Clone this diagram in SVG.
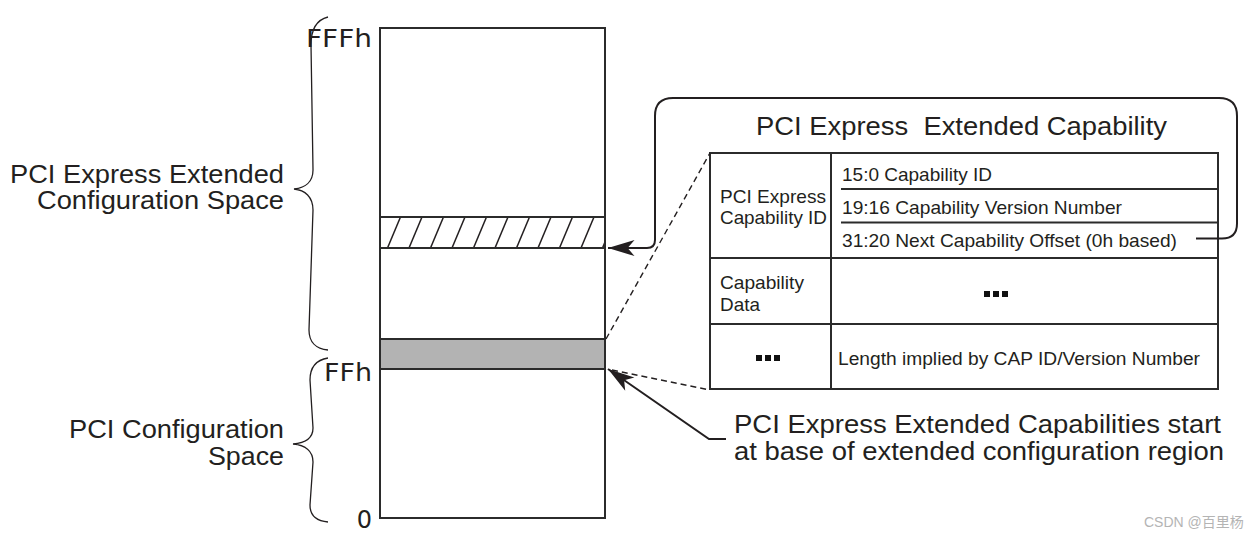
<svg xmlns="http://www.w3.org/2000/svg" width="1255" height="540" viewBox="0 0 1255 540">
<defs>
<style>
.t{font-family:"Liberation Sans",Arial,sans-serif;fill:#231f20}
.big{font-size:26px}
.tab{font-size:18.5px}
.mono{font-family:"DejaVu Sans",sans-serif;font-size:24px;fill:#231f20}
.box{fill:none;stroke:#2b2b2b;stroke-width:2}
.brace{fill:none;stroke:#231f20;stroke-width:1.3}
.con{fill:none;stroke:#231f20;stroke-width:2}
.dash{fill:none;stroke:#231f20;stroke-width:1.4;stroke-dasharray:6 4}
.hatch{stroke:#231f20;stroke-width:1.5}
.dot{fill:#111}
</style>
<marker id="ah" markerUnits="userSpaceOnUse" markerWidth="30" markerHeight="20" viewBox="-24 -8 26 16" refX="0" refY="0" orient="auto">
<path d="M0,0 L-23,-7 L-17,0 L-23,7 Z" fill="#231f20"/>
</marker>
<clipPath id="hclip"><rect x="380" y="217" width="225" height="31"/></clipPath>
</defs>

<g id="memory-map">
<rect class="box" x="380" y="28" width="225" height="490" fill="#fff"/>
<rect x="380" y="339" width="225" height="30" fill="#b3b3b3" stroke="#2b2b2b" stroke-width="2"/>
<g id="hatched-region">
<g clip-path="url(#hclip)" class="hatch">
<line x1="366" y1="248" x2="379" y2="217"/>
<line x1="387.5" y1="248" x2="400.5" y2="217"/>
<line x1="409" y1="248" x2="422" y2="217"/>
<line x1="430.5" y1="248" x2="443.5" y2="217"/>
<line x1="452" y1="248" x2="465" y2="217"/>
<line x1="473.5" y1="248" x2="486.5" y2="217"/>
<line x1="495" y1="248" x2="508" y2="217"/>
<line x1="516.5" y1="248" x2="529.5" y2="217"/>
<line x1="538" y1="248" x2="551" y2="217"/>
<line x1="559.5" y1="248" x2="572.5" y2="217"/>
<line x1="581" y1="248" x2="594" y2="217"/>
<line x1="602.5" y1="248" x2="615.5" y2="217"/>
</g>
<rect class="box" x="380" y="217" width="225" height="31"/>
</g>
<text class="mono" x="372" y="47" text-anchor="end" textLength="66" lengthAdjust="spacingAndGlyphs">FFFh</text>
<text class="mono" x="372" y="381" text-anchor="end" textLength="48" lengthAdjust="spacingAndGlyphs">FFh</text>
<text class="mono" x="372" y="528" text-anchor="end">0</text>
</g>

<g id="ext-config-label">
<path class="brace" d="M328,17 C316,20 311,30 311,45 L313,170 C313,182 305,188 294,189 C305,190 313,197 313,210 L309,330 C309,342 316,349 328,350"/>
<text class="t big" text-anchor="end"><tspan x="284" y="183" textLength="274" lengthAdjust="spacingAndGlyphs">PCI Express Extended</tspan><tspan x="284" y="209" textLength="247" lengthAdjust="spacingAndGlyphs">Configuration Space</tspan></text>
</g>

<g id="config-label">
<path class="brace" d="M328,358 C316,360 310,368 310,380 L313,428 C313,438 305,443 293,444 C305,445 313,451 313,462 L310,505 C310,515 316,521 328,522"/>
<text class="t big" text-anchor="end"><tspan x="284" y="438" textLength="215" lengthAdjust="spacingAndGlyphs">PCI Configuration</tspan><tspan x="284" y="465" textLength="76" lengthAdjust="spacingAndGlyphs">Space</tspan></text>
</g>

<g id="capability-structure">
<text class="t" x="756" y="135" font-size="26.5" xml:space="preserve" textLength="411" lengthAdjust="spacingAndGlyphs">PCI Express  Extended Capability</text>
<rect class="box" x="710" y="153" width="508" height="236"/>
<line class="box" x1="831" y1="153" x2="831" y2="389"/>
<line class="box" x1="710" y1="258" x2="1218" y2="258"/>
<line class="box" x1="710" y1="324" x2="1218" y2="324"/>
<line class="box" x1="841" y1="189" x2="1218" y2="189" stroke-width="1.5"/>
<line class="box" x1="841" y1="222.5" x2="1218" y2="222.5" stroke-width="1.5"/>
<text class="t tab"><tspan x="720" y="203" textLength="106" lengthAdjust="spacingAndGlyphs">PCI Express</tspan><tspan x="720" y="224" textLength="107" lengthAdjust="spacingAndGlyphs">Capability ID</tspan></text>
<text class="t tab" x="842" y="181" textLength="150" lengthAdjust="spacingAndGlyphs">15:0 Capability ID</text>
<text class="t tab" x="842" y="214" textLength="280" lengthAdjust="spacingAndGlyphs">19:16 Capability Version Number</text>
<text class="t tab" x="842" y="247" textLength="335" lengthAdjust="spacingAndGlyphs">31:20 Next Capability Offset (0h based)</text>
<text class="t tab"><tspan x="720" y="289" textLength="84" lengthAdjust="spacingAndGlyphs">Capability</tspan><tspan x="720" y="311" textLength="40" lengthAdjust="spacingAndGlyphs">Data</tspan></text>
<rect class="dot" x="984" y="291" width="6" height="6"/>
<rect class="dot" x="993" y="291" width="6" height="6"/>
<rect class="dot" x="1002" y="291" width="6" height="6"/>
<rect class="dot" x="756" y="355" width="6" height="6"/>
<rect class="dot" x="765" y="355" width="6" height="6"/>
<rect class="dot" x="774" y="355" width="6" height="6"/>
<text class="t" x="838" y="365" font-size="18" textLength="362" lengthAdjust="spacingAndGlyphs">Length implied by CAP ID/Version Number</text>
</g>

<g id="callout">
<text class="t" font-size="26"><tspan x="734" y="433" textLength="487" lengthAdjust="spacingAndGlyphs">PCI Express Extended Capabilities start</tspan><tspan x="734" y="460" textLength="490" lengthAdjust="spacingAndGlyphs">at base of extended configuration region</tspan></text>
</g>

<g id="connectors">
<path class="con" d="M1196,238.5 H1222 Q1237,238.5 1237,223.5 V116 Q1237,98 1219,98 H673 Q655,98 655,116 V240 Q655,248 647,248 H608" marker-end="url(#ah)"/>
<path class="con" d="M726,439 H709 L608,369" marker-end="url(#ah)"/>
<path class="dash" d="M606,339 L710,153"/>
<path class="dash" d="M612,370 L710,390"/>
</g>

<text x="1144" y="527" font-size="14" fill="#b4b4b4" font-family="'Liberation Sans','Noto Sans CJK SC',sans-serif">CSDN @百里杨</text>
</svg>
